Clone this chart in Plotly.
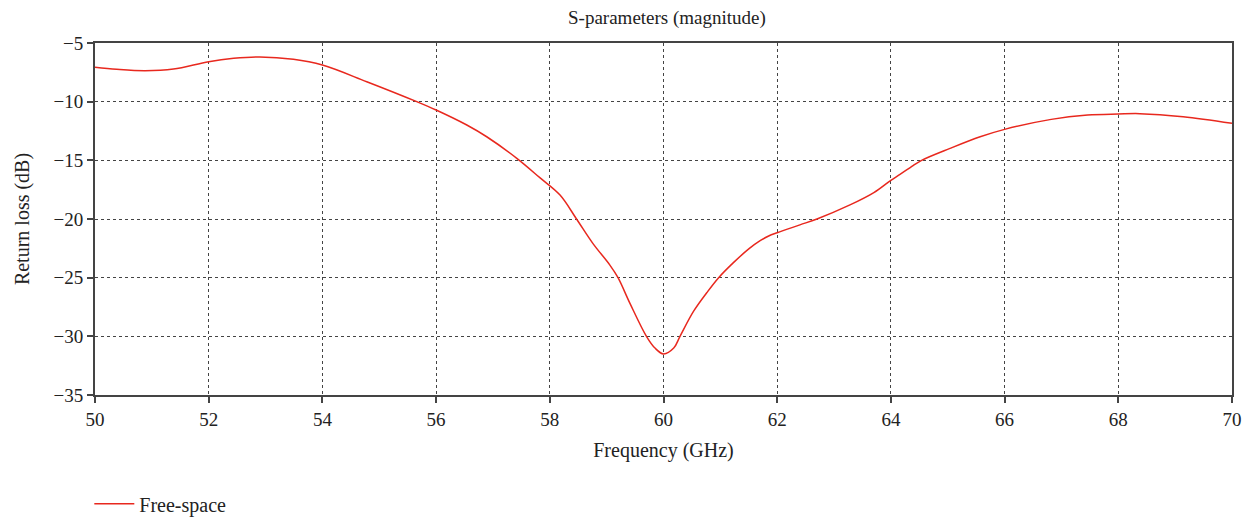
import plotly.graph_objects as go

freq_ghz = [50.0, 50.38, 50.88, 51.38, 52.0, 52.44, 52.9, 53.49, 54.0, 54.78, 55.66, 56.0,
            56.54, 56.89, 57.42, 57.83, 58.18, 58.47, 58.76, 59.06, 59.2, 59.41, 59.7, 59.85,
            60.0, 60.18, 60.29, 60.53, 60.76, 60.97, 61.23, 61.5, 61.7, 61.85, 62.0, 62.4, 62.7, 63.28,
            63.7, 64.0, 64.16, 64.39, 64.54, 65.04, 65.57, 66.0, 66.82, 67.46, 68.0, 68.38,
            69.14, 70.0]
return_loss_db = [-7.07, -7.24, -7.36, -7.22, -6.59, -6.31, -6.19, -6.39, -6.88, -8.30, -10.0, -10.71,
                  -11.99, -12.99, -14.83, -16.5, -17.96, -20.0, -22.1, -23.95, -25.0, -27.19, -30.0, -31.0,
                  -31.5, -31.0, -30.0, -27.86, -26.29, -25.0, -23.72, -22.55, -21.85, -21.45, -21.17, -20.5, -20.0, -18.8,
                  -17.75, -16.7, -16.2, -15.45, -15.0, -13.98, -12.99, -12.36, -11.51, -11.14, -11.05, -11.02,
                  -11.28, -11.85]
series_name = "Free-space"
x_ticks = [50, 52, 54, 56, 58, 60, 62, 64, 66, 68, 70]
y_ticks = [-35, -30, -25, -20, -15, -10, -5]

FONT = "Liberation Serif, Times New Roman, serif"
TXT = "#222"

fig = go.Figure()
fig.add_trace(go.Scatter(
    x=freq_ghz, y=return_loss_db, mode="lines", name=series_name,
    line=dict(color="rgb(232,40,30)", width=1.5, shape="spline", smoothing=1.0),
))

axis_common = dict(
    showline=True, linecolor="#444", linewidth=2, mirror=True,
    ticks="outside", ticklen=6, tickcolor="#444", tickwidth=1.5,
    showgrid=True, gridcolor="#444", griddash="dot", gridwidth=1,
    zeroline=False, tickfont=dict(family=FONT, size=19, color=TXT),
)

fig.update_xaxes(range=[50, 70], tickvals=x_ticks, ticktext=[str(v) for v in x_ticks],
                 title=dict(text="Frequency (GHz)", font=dict(family=FONT, size=20, color=TXT), standoff=14),
                 **axis_common)
fig.update_yaxes(range=[-35, -5], tickvals=y_ticks, ticktext=[str(v).replace("-", "\u2212") for v in y_ticks],
                 title=dict(text="Return loss (dB)", font=dict(family=FONT, size=20, color=TXT), standoff=18),
                 **axis_common)

fig.update_layout(
    width=1244, height=509,
    margin=dict(l=87, r=20, t=35, b=122, autoexpand=False),
    paper_bgcolor="white", plot_bgcolor="white",
    title=dict(text="S-parameters (magnitude)", x=0.5297, xanchor="center", y=0.982, yanchor="middle",
               font=dict(family=FONT, size=19, color=TXT)),
    showlegend=True,
    legend=dict(x=-0.005, xanchor="left", yref="container", y=0.026, yanchor="middle",
                itemwidth=40,
                font=dict(family=FONT, size=20, color=TXT), bgcolor="rgba(0,0,0,0)"),
)

fig.write_html("out.html")
